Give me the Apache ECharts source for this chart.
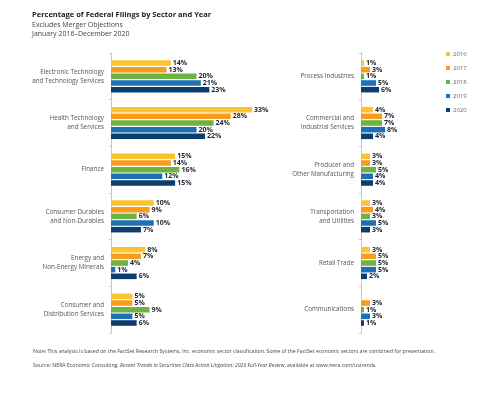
<!DOCTYPE html>
<html><head><meta charset="utf-8">
<script src="https://cdn.jsdelivr.net/npm/echarts@6/dist/echarts.min.js"></script>
<style>html,body{margin:0;padding:0;background:#fff}#c{width:487px;height:393px}</style>
</head><body><div id="c"></div>
<script>
const years = ['2016','2017','2018','2019','2020'];
const colors = ['#FCC330','#F89C1C','#6CB33F','#1E6FB4','#0B3D6F'];
const leftCats = ['Electronic Technology\nand Technology Services','Health Technology\nand Services','Finance','Consumer Durables\nand Non-Durables','Energy and\nNon-Energy Minerals','Consumer and\nDistribution Services'];
const rightCats = ['Process Industries','Commercial and\nIndustrial Services','Producer and\nOther Manufacturing','Transportation\nand Utilities','Retail Trade','Communications'];
const left2016 = [14,33,15,10,8,5];
const left2017 = [13,28,14,9,7,5];
const left2018 = [20,24,16,6,4,9];
const left2019 = [21,20,12,10,1,5];
const left2020 = [23,22,15,7,6,6];
const right2016 = [1,4,3,3,3,'-'];
const right2017 = [3,7,3,4,5,3];
const right2018 = [1,7,5,3,5,1];
const right2019 = [5,8,4,5,5,3];
const right2020 = [6,4,4,3,2,1];
const leftData = [left2016,left2017,left2018,left2019,left2020];
const rightData = [right2016,right2017,right2018,right2019,right2020];

const font = 'Open Sans, Noto Sans, sans-serif';
const chart = echarts.init(document.getElementById('c'));
const series = [];
function mk(data, idx, gi){
  return {
    name: years[idx], type:'bar', xAxisIndex: gi, yAxisIndex: gi, data: data,
    itemStyle:{color: colors[idx]},
    barCategoryGap:'31%', barGap:'20%',
    label:{show:true, position:'right', distance:2, formatter:'{c}%', fontFamily:font, fontSize:7, fontWeight:'bold', color:'#1f2233'},
    animation:false
  };
}
leftData.forEach((d,i)=>series.push(mk(d,i,0)));
rightData.forEach((d,i)=>series.push(mk(d,i,1)));
const catAxis = (cats, gi) => ({
  type:'category', gridIndex: gi, data: cats, inverse:true,
  axisLine:{show:true, lineStyle:{color:'#c8c8c8', width:1}},
  axisTick:{show:true, length:2, lineStyle:{color:'#c8c8c8'}},
  axisLabel:{fontFamily:font, fontSize:6.3, color:'#555', lineHeight:9, margin:7, align:'right'}
});
chart.setOption({
  animation:false,
  grid:[
    {left:111, top:53, width:171, height:280},
    {left:361, top:53, width:120, height:280}
  ],
  xAxis:[
    {type:'value', gridIndex:0, min:0, max:40, show:false},
    {type:'value', gridIndex:1, min:0, max:40, show:false}
  ],
  yAxis:[catAxis(leftCats,0), catAxis(rightCats,1)],
  legend:{
    data: years, orient:'vertical', left:441, top:45, itemWidth:4, itemHeight:4, itemGap:6,
    icon:'rect', textStyle:{fontFamily:font, fontSize:6, color:'#666', lineHeight:8, padding:[0,0,0,-2]}
  },
  graphic:[
    {type:'text', left:32, top:11, style:{text:'Percentage of Federal Filings by Sector and Year', font:'bold 7.5px '+font, fill:'#222'}},
    {type:'text', left:32, top:21, style:{text:'Excludes Merger Objections', font:'7px '+font, fill:'#444'}},
    {type:'text', left:32, top:30, style:{text:'January 2016\u2013December 2020', font:'7px '+font, fill:'#444'}},
    {type:'text', left:33, top:349, style:{text:'Note: This analysis is based on the FactSet Research Systems, Inc. economic sector classification. Some of the FactSet economic sectors are combined for presentation.', font:'5.2px '+font, fill:'#444'}},
    {type:'text', left:33, top:363, style:{
      text:'{n|Source: NERA Economic Consulting, }{i|Recent Trends in Securities Class Action Litigation: 2020 Full-Year Review}{n|, available at www.nera.com/ustrends.}',
      rich:{n:{font:'5.2px '+font, fill:'#444'}, i:{font:'italic 5.2px '+font, fill:'#444'}}
    }}
  ],
  series: series
});
</script></body></html>
